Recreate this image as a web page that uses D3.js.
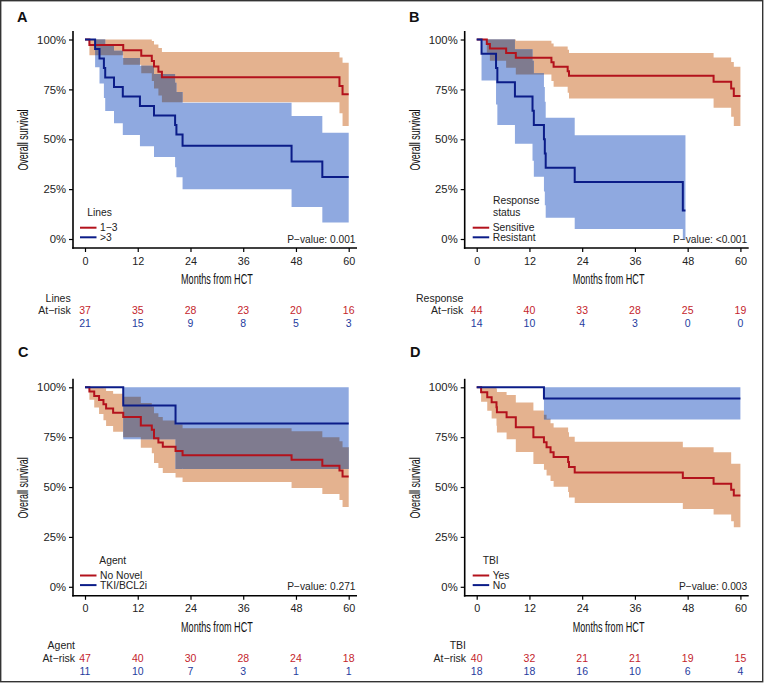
<!DOCTYPE html>
<html><head><meta charset="utf-8">
<script src="https://cdn.jsdelivr.net/npm/d3@7"></script>
<style>
body{margin:0;background:#fff}
svg{display:block}
text{font-family:"Liberation Sans",Arial,Helvetica,sans-serif}
</style>
</head><body>
<svg id="c" width="765" height="685"></svg>
<script>
// ---------- shared axis data ----------
const xTicks = [0, 12, 24, 36, 48, 60];
const yTicks = [0, 0.25, 0.5, 0.75, 1];
const yTickLabels = ["0%", "25%", "50%", "75%", "100%"];

// ---------- Panel A : Lines ----------
const aNames = ["1\u22123", ">3"];
const aTime1 = [0, 1.0, 8.7, 12.8, 15.2, 15.7, 16.7, 17.5, 57.9, 58.6, 60];
const aSurv1 = [1, 0.973, 0.946, 0.919, 0.892, 0.865, 0.838, 0.811, 0.767, 0.725, 0.725];
const aLow1  = [1, 0.921, 0.873, 0.831, 0.792, 0.755, 0.719, 0.685, 0.630, 0.567, 0.567];
const aUp1   = [1, 1, 1, 1, 0.992, 0.975, 0.957, 0.937, 0.910, 0.883, 0.883];
const aTime2 = [0, 2.3, 3.3, 4.3, 4.6, 6.6, 8.6, 12.5, 15.7, 20.5, 20.8, 22.2, 47.0, 54.0, 60];
const aSurv2 = [1, 0.952, 0.905, 0.857, 0.810, 0.762, 0.714, 0.667, 0.619, 0.571, 0.524, 0.467, 0.389, 0.311, 0.311];
const aLow2  = [1, 0.861, 0.779, 0.707, 0.642, 0.580, 0.521, 0.465, 0.411, 0.360, 0.310, 0.250, 0.160, 0.083, 0.083];
const aUp2   = [1, 1, 1, 1, 0.978, 0.944, 0.907, 0.868, 0.827, 0.783, 0.737, 0.683, 0.617, 0.533, 0.533];
const aRisk1 = [37, 35, 28, 23, 20, 16];
const aRisk2 = [21, 15, 9, 8, 5, 3];

// ---------- Panel B : Response status ----------
const bNames = ["Sensitive", "Resistant"];
const bTime1 = [0, 2.3, 3.0, 6.7, 8.9, 17.0, 17.5, 20.7, 21.0, 53.9, 57.9, 58.5, 60];
const bSurv1 = [1, 0.977, 0.955, 0.932, 0.909, 0.886, 0.864, 0.841, 0.818, 0.788, 0.755, 0.717, 0.717];
const bLow1  = [1, 0.933, 0.894, 0.858, 0.824, 0.792, 0.763, 0.733, 0.704, 0.658, 0.613, 0.567, 0.567];
const bUp1   = [1, 1, 1, 1, 0.994, 0.980, 0.965, 0.949, 0.932, 0.910, 0.887, 0.863, 0.863];
const bTime2 = [0, 1.1, 4.4, 4.7, 8.7, 12.7, 13.0, 15.3, 15.5, 15.7, 22.3, 46.9, 47.5];
const bSurv2 = [1, 0.929, 0.857, 0.786, 0.714, 0.643, 0.571, 0.500, 0.429, 0.357, 0.286, 0.143, 0.143];
const bLow2  = [1, 0.794, 0.674, 0.571, 0.478, 0.392, 0.312, 0.238, 0.169, 0.106, 0.050, 0, 0];
const bUp2   = [1, 1, 1, 1, 0.951, 0.894, 0.831, 0.762, 0.688, 0.608, 0.520, 0.520, 0.520];
const bRisk1 = [44, 40, 33, 28, 25, 19];
const bRisk2 = [14, 10, 4, 3, 0, 0];

// ---------- Panel C : Agent ----------
const cNames = ["No Novel", "TKI/BCL2i"];
const cTime1 = [0, 1.0, 2.1, 3.2, 4.2, 4.8, 6.4, 8.7, 12.7, 15.2, 15.7, 16.7, 17.7, 20.6, 22.2, 47.0, 54.0, 57.9, 58.6, 60];
const cSurv1 = [1, 0.979, 0.957, 0.936, 0.915, 0.894, 0.872, 0.851, 0.809, 0.787, 0.745, 0.723, 0.702, 0.681, 0.660, 0.637, 0.607, 0.583, 0.553, 0.553];
const cLow1  = [1, 0.938, 0.899, 0.866, 0.835, 0.806, 0.777, 0.749, 0.697, 0.670, 0.620, 0.595, 0.571, 0.548, 0.525, 0.495, 0.465, 0.435, 0.400, 0.400];
const cUp1   = [1, 1, 1, 1, 0.995, 0.982, 0.968, 0.953, 0.921, 0.904, 0.870, 0.851, 0.833, 0.814, 0.795, 0.780, 0.750, 0.730, 0.700, 0.700];
const cTime2 = [0, 8.7, 20.6, 60];
const cSurv2 = [1, 0.909, 0.818, 0.818];
const cLow2  = [1, 0.740, 0.590, 0.590];
const cUp2   = [1, 1, 1, 1];
const cRisk1 = [47, 40, 30, 28, 24, 18];
const cRisk2 = [11, 10, 7, 3, 1, 1];

// ---------- Panel D : TBI ----------
const dNames = ["Yes", "No"];
const dTime1 = [0, 1.0, 2.4, 3.4, 4.5, 4.6, 6.8, 8.9, 12.9, 15.3, 15.9, 16.8, 17.5, 20.8, 21.0, 22.3, 46.9, 53.9, 57.9, 58.5, 60];
const dSurv1 = [1, 0.975, 0.950, 0.925, 0.900, 0.875, 0.850, 0.800, 0.750, 0.725, 0.700, 0.675, 0.650, 0.625, 0.600, 0.573, 0.545, 0.517, 0.487, 0.458, 0.458];
const dLow1  = [1, 0.927, 0.882, 0.843, 0.807, 0.773, 0.739, 0.676, 0.616, 0.587, 0.558, 0.530, 0.502, 0.475, 0.448, 0.420, 0.390, 0.362, 0.328, 0.298, 0.298];
const dUp1   = [1, 1, 1, 1, 0.993, 0.977, 0.961, 0.924, 0.884, 0.863, 0.842, 0.820, 0.798, 0.775, 0.752, 0.727, 0.700, 0.675, 0.617, 0.617, 0.617];
const dTime2 = [0, 15.3, 60];
const dSurv2 = [1, 0.944, 0.944];
const dLow2  = [1, 0.838, 0.838];
const dUp2   = [1, 1, 1];
const dRisk1 = [40, 32, 21, 21, 19, 15];
const dRisk2 = [18, 18, 16, 10, 6, 4];

// ---------- styles ----------
const lineColors = ["#B3121C", "#0B1C88"];
const bandColors = ["#E4B28F", "#8FA9E0"];
const overlapColor = "#7F7B8F";
const riskColors = ["#C41E2C", "#1F3C9E"];

const panels = [
  {letter:"A", lx:17, ly:21.7, ox:0, oy:0,
   g1:[aTime1,aSurv1,aLow1,aUp1], g2:[aTime2,aSurv2,aLow2,aUp2], names:aNames,
   legTitle:["Lines"], legTitleX:87.3, legTitleY:[216], legX:80, legTextX:100,
   p:"P\u2212value: 0.001", riskTitle:"Lines", riskX:70.7, risk:[aRisk1,aRisk2]},
  {letter:"B", lx:409, ly:21.7, ox:391.7, oy:0,
   g1:[bTime1,bSurv1,bLow1,bUp1], g2:[bTime2,bSurv2,bLow2,bUp2], names:bNames,
   legTitle:["Response","status"], legTitleX:101.3, legTitleY:[204,216], legX:81, legTextX:101,
   p:"P\u2212value: <0.001", riskTitle:"Response", riskX:71.6, risk:[bRisk1,bRisk2]},
  {letter:"C", lx:18, ly:356.7, ox:0, oy:347.8,
   g1:[cTime1,cSurv1,cLow1,cUp1], g2:[cTime2,cSurv2,cLow2,cUp2], names:cNames,
   legTitle:["Agent"], legTitleX:99.3, legTitleY:[216], legX:80, legTextX:100,
   p:"P\u2212value: 0.271", riskTitle:"Agent", riskX:75, risk:[cRisk1,cRisk2]},
  {letter:"D", lx:410, ly:356.7, ox:391.7, oy:347.8,
   g1:[dTime1,dSurv1,dLow1,dUp1], g2:[dTime2,dSurv2,dLow2,dUp2], names:dNames,
   legTitle:["TBI"], legTitleX:91, legTitleY:[216], legX:81, legTextX:101,
   p:"P\u2212value: 0.003", riskTitle:"TBI", riskX:74.3, risk:[dRisk1,dRisk2]}
];

const svg = d3.select("#c");
svg.append("rect").attr("x",0.7).attr("y",0.7).attr("width",762).attr("height",681)
  .attr("fill","#fff").attr("stroke","#333").attr("stroke-width",1.4);

const x = d3.scaleLinear().domain([0, 60]).range([85, 348.7]);
const y = d3.scaleLinear().domain([0, 1]).range([239, 39.5]);

const area = d3.area().curve(d3.curveStepAfter)
  .x(d => x(d.t)).y0(d => y(d.lo)).y1(d => y(d.hi));
const line = d3.line().curve(d3.curveStepAfter)
  .x(d => x(d.t)).y(d => y(d.s));

function toRows(g){ return g[0].map((t,i)=>({t:t, s:g[1][i], lo:g[2][i], hi:g[3][i]})); }
function stepAt(rows, t){ let r = rows[0]; for (const d of rows){ if (d.t <= t) r = d; else break; } return r; }
// overlap of the two step bands, built from the data through the scales
function overlapPath(r1, r2){
  const tEnd = Math.min(r1[r1.length-1].t, r2[r2.length-1].t);
  const ts = Array.from(new Set(r1.concat(r2).map(d=>d.t))).filter(t=>t<=tEnd).sort((a,b)=>a-b);
  let s = "";
  for (let i = 0; i < ts.length-1; i++){
    const a = stepAt(r1, ts[i]), b = stepAt(r2, ts[i]);
    const lo = Math.max(a.lo, b.lo), hi = Math.min(a.hi, b.hi);
    if (hi > lo) s += `M${x(ts[i])},${y(hi)}H${x(ts[i+1])}V${y(lo)}H${x(ts[i])}Z`;
  }
  return s;
}

panels.forEach(p => {
  svg.append("text").attr("x",p.lx).attr("y",p.ly).attr("font-size",14.5)
    .attr("font-weight","bold").attr("fill","#111").text(p.letter);

  const g = svg.append("g").attr("transform",`translate(${p.ox},${p.oy})`);
  const r1 = toRows(p.g1), r2 = toRows(p.g2);

  // confidence bands
  g.append("path").datum(r1).attr("d",area).attr("fill",bandColors[0]);
  g.append("path").datum(r2).attr("d",area).attr("fill",bandColors[1]);
  g.append("path").attr("d",overlapPath(r1,r2)).attr("fill",overlapColor);

  // survival curves
  g.append("path").datum(r1).attr("d",line).attr("fill","none")
    .attr("stroke",lineColors[0]).attr("stroke-width",2);
  g.append("path").datum(r2).attr("d",line).attr("fill","none")
    .attr("stroke",lineColors[1]).attr("stroke-width",2);

  // axes
  const ya = d3.axisLeft(y).tickValues(yTicks).tickFormat((d,i)=>yTickLabels[i])
    .tickSize(4).tickPadding(3);
  const yg = g.append("g").attr("transform","translate(73,0)").call(ya);
  yg.select(".domain").remove();
  yg.selectAll("line").attr("stroke","#000").attr("stroke-width",1.2);
  yg.selectAll("text").attr("font-size",11.3).attr("fill","#222")
    .style("font-family","'Liberation Sans',Arial,sans-serif");

  const xa = d3.axisBottom(x).tickValues(xTicks).tickSize(4).tickPadding(5);
  const xg = g.append("g").attr("transform","translate(0,248)").call(xa);
  xg.select(".domain").remove();
  xg.selectAll("line").attr("stroke","#000").attr("stroke-width",1.2);
  xg.selectAll("text").attr("font-size",10.8).attr("fill","#222")
    .style("font-family","'Liberation Sans',Arial,sans-serif");

  g.append("line").attr("x1",73).attr("x2",73).attr("y1",31).attr("y2",248.8)
    .attr("stroke","#000").attr("stroke-width",1.6);
  g.append("line").attr("x1",72.2).attr("x2",357).attr("y1",248).attr("y2",248)
    .attr("stroke","#000").attr("stroke-width",1.6);

  // axis titles (condensed look)
  g.append("text").attr("transform","translate(28.3,140) rotate(-90) scale(0.64,1)")
    .attr("text-anchor","middle").attr("font-size",14).attr("fill","#111").text("Overall survival");
  g.append("text").attr("transform","translate(216.9,284) scale(0.65,1)")
    .attr("text-anchor","middle").attr("font-size",14).attr("fill","#111").text("Months from HCT");

  // legend
  p.legTitle.forEach((t,i)=>{
    g.append("text").attr("x",p.legTitleX).attr("y",p.legTitleY[i]).attr("font-size",10.3)
      .attr("fill","#222").text(t);
  });
  [227.7, 237.3].forEach((ly,i)=>{
    g.append("line").attr("x1",p.legX).attr("x2",p.legX+16.5).attr("y1",ly).attr("y2",ly)
      .attr("stroke",lineColors[i]).attr("stroke-width",2);
    g.append("text").attr("x",p.legTextX).attr("y",ly+3.6).attr("font-size",10.3)
      .attr("fill","#222").text(p.names[i]);
  });

  // p-value
  g.append("text").attr("x",355.5).attr("y",242.5).attr("text-anchor","end")
    .attr("font-size",10.2).attr("fill","#222").text(p.p);

  // risk table
  g.append("text").attr("x",p.riskX).attr("y",301.7).attr("text-anchor","end")
    .attr("font-size",10.5).attr("fill","#222").text(p.riskTitle);
  g.append("text").attr("x",p.riskX).attr("y",314.3).attr("text-anchor","end")
    .attr("font-size",10.5).attr("fill","#222").text("At\u2212risk");
  p.risk.forEach((row,ri)=>{
    g.selectAll(null).data(row).enter().append("text")
      .attr("x",(d,i)=>x(xTicks[i])).attr("y",ri===0?314.3:327.3)
      .attr("text-anchor","middle").attr("font-size",10.5)
      .attr("fill",riskColors[ri]).text(d=>d);
  });
});
</script>
</body></html>
